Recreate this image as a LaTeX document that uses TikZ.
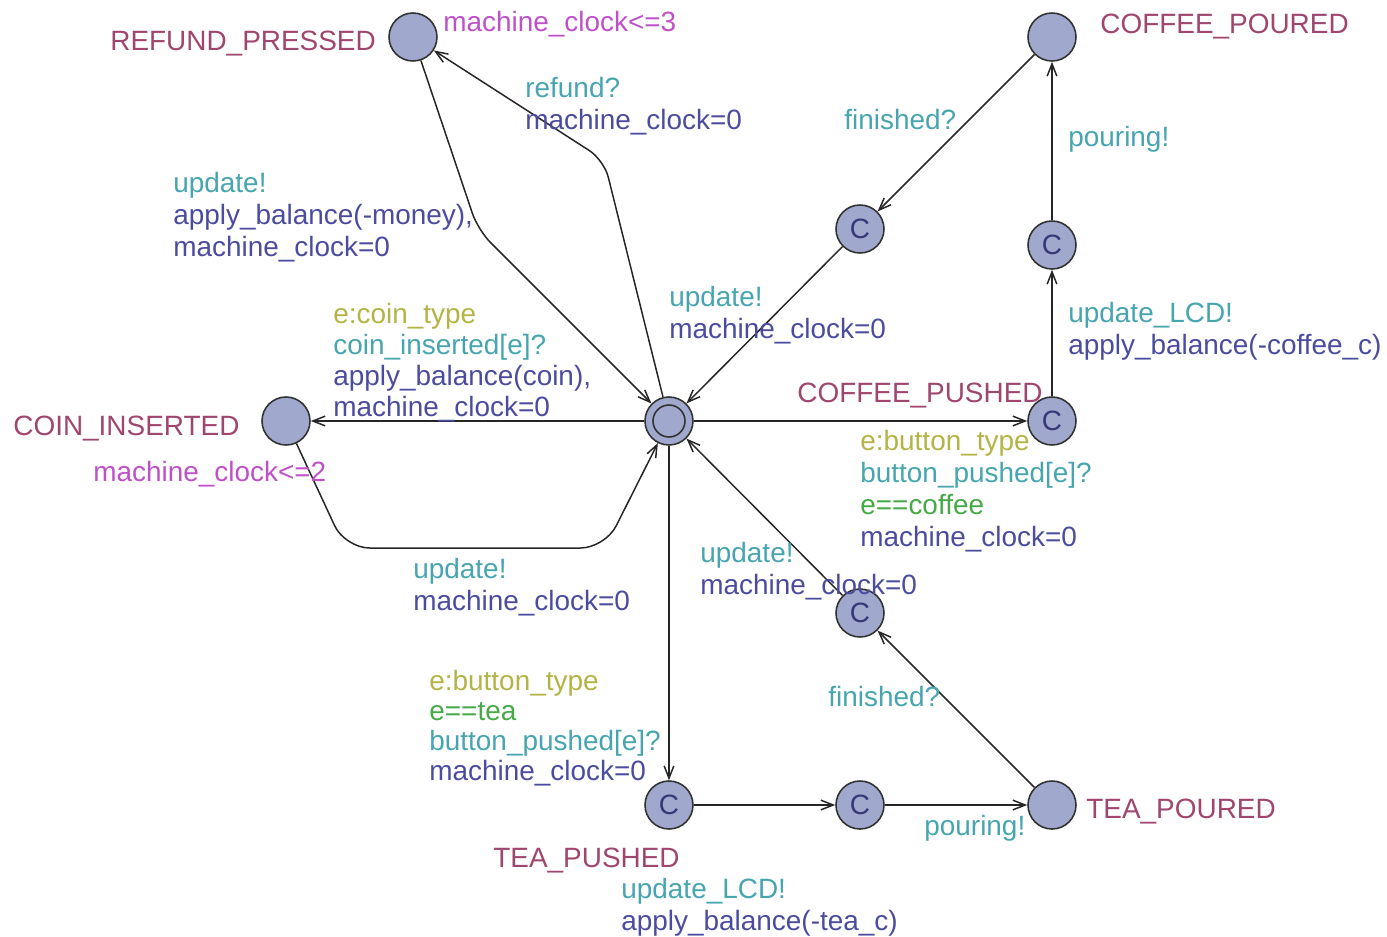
\documentclass[tikz,border=0pt]{standalone}
\usepackage{fontspec}
\setmainfont{Liberation Sans}
\usetikzlibrary{arrows.meta}
\definecolor{locname}{RGB}{160,70,110}
\definecolor{invc}{RGB}{190,80,200}
\definecolor{syncc}{RGB}{70,165,175}
\definecolor{assc}{RGB}{75,75,160}
\definecolor{selc}{RGB}{180,180,70}
\definecolor{guardc}{RGB}{70,170,70}
\definecolor{locfill}{RGB}{160,168,205}
\definecolor{cdark}{RGB}{55,55,120}
\newcommand\lblfont{\fontsize{15.9}{18.1}\selectfont}
\begin{document}
\begin{tikzpicture}[x=0.02cm,y=-0.02cm,
  loc/.style={circle,draw=black!80,line width=0.9pt,fill=locfill,minimum size=0.96cm,inner sep=0pt},
  comm/.style={loc,font=\lblfont,text=cdark},
  edge/.style={draw=black!85,line width=0.85pt,-{Straight Barb[length=7pt,width=5.5pt]}},
  lbl/.style={anchor=base west,inner sep=0pt,align=left,font=\lblfont},
]
\useasboundingbox (0,0) rectangle (1387,937);
% locations
\node[loc] (R) at (413,37) {};
\node[loc] (CP) at (1052,37) {};
\node[comm] (C1) at (860,229) {C};
\node[comm] (C2) at (1052,245) {C};
\node[loc] (I) at (669,421) {};
\node[circle,draw=black!80,line width=0.9pt,minimum size=0.64cm,inner sep=0pt] (Iin) at (I) {};
\node[loc] (CI) at (286,421) {};
\node[comm] (CPu) at (1052,421) {C};
\node[comm] (C3) at (860,613) {C};
\node[comm] (TPu) at (669,805) {C};
\node[comm] (C4) at (860,805) {C};
\node[loc] (TP) at (1052,805) {};
% edges
\draw[edge,rounded corners=10pt] (I) -- (604,160) -- (R);
\draw[edge,rounded corners=10pt] (R) -- (478,230) -- (I);
\draw[edge] (C1) -- (I);
\draw[edge] (CP) -- (C1);
\draw[edge] (C2) -- (CP);
\draw[edge] (CPu) -- (C2);
\draw[edge] (I) -- (CPu);
\draw[edge] (I) -- (CI);
\draw[edge,rounded corners=14pt] (CI) -- (345,548) -- (605,548) -- (I);
\draw[edge] (I) -- (TPu);
\draw[edge] (TPu) -- (C4);
\draw[edge] (C4) -- (TP);
\draw[edge] (TP) -- (C3);
\draw[edge] (C3) -- (I);
% location names and invariants
\node[lbl,text=locname] (nR) at (110,50) {REFUND\_PRESSED};
\node[lbl,text=invc] (iR) at (443,31) {machine\_clock<=3};
\node[lbl,text=locname] (nCP) at (1100,33) {COFFEE\_POURED};
\node[lbl,text=locname] (nCPu) at (797,402) {COFFEE\_PUSHED};
\node[lbl,text=locname] (nCI) at (13,435) {COIN\_INSERTED};
\node[lbl,text=invc] (iCI) at (93,481) {machine\_clock<=2};
\node[lbl,text=locname] (nTP) at (1086,818) {TEA\_POURED};
\node[lbl,text=locname] (nTPu) at (493,867) {TEA\_PUSHED};
% edge labels (anchored at the baseline of their last line)
\node[lbl] (l1) at (525,129) {\textcolor{syncc}{refund?}\\\textcolor{assc}{machine\_clock=0}};
\node[lbl] (l2) at (173,256) {\textcolor{syncc}{update!}\\\textcolor{assc}{apply\_balance(-money),}\\\textcolor{assc}{machine\_clock=0}};
\node[lbl] (l3) at (844,129) {\textcolor{syncc}{finished?}};
\node[lbl] (l4) at (1068,146) {\textcolor{syncc}{pouring!}};
\node[lbl] (l5) at (669,338) {\textcolor{syncc}{update!}\\\textcolor{assc}{machine\_clock=0}};
\node[lbl] (l6) at (1068,354) {\textcolor{syncc}{update\_LCD!}\\\textcolor{assc}{apply\_balance(-coffee\_c)}};
\node[lbl,font=\fontsize{15.9}{17.5}\selectfont] (l7) at (333,416) {\textcolor{selc}{e:coin\_type}\\\textcolor{syncc}{coin\_inserted[e]?}\\\textcolor{assc}{apply\_balance(coin),}\\\textcolor{assc}{machine\_clock=0}};
\node[lbl] (l8) at (860,546) {\textcolor{selc}{e:button\_type}\\\textcolor{syncc}{button\_pushed[e]?}\\\textcolor{guardc}{e==coffee}\\\textcolor{assc}{machine\_clock=0}};
\node[lbl] (l9) at (413,610) {\textcolor{syncc}{update!}\\\textcolor{assc}{machine\_clock=0}};
\node[lbl] (l10) at (700,594) {\textcolor{syncc}{update!}\\\textcolor{assc}{machine\_clock=0}};
\node[lbl,font=\fontsize{15.9}{17}\selectfont] (l11) at (429,780) {\textcolor{selc}{e:button\_type}\\\textcolor{guardc}{e==tea}\\\textcolor{syncc}{button\_pushed[e]?}\\\textcolor{assc}{machine\_clock=0}};
\node[lbl] (l12) at (828,706) {\textcolor{syncc}{finished?}};
\node[lbl] (l13) at (924,835) {\textcolor{syncc}{pouring!}};
\node[lbl] (l14) at (621,930) {\textcolor{syncc}{update\_LCD!}\\\textcolor{assc}{apply\_balance(-tea\_c)}};
\end{tikzpicture}
\end{document}
